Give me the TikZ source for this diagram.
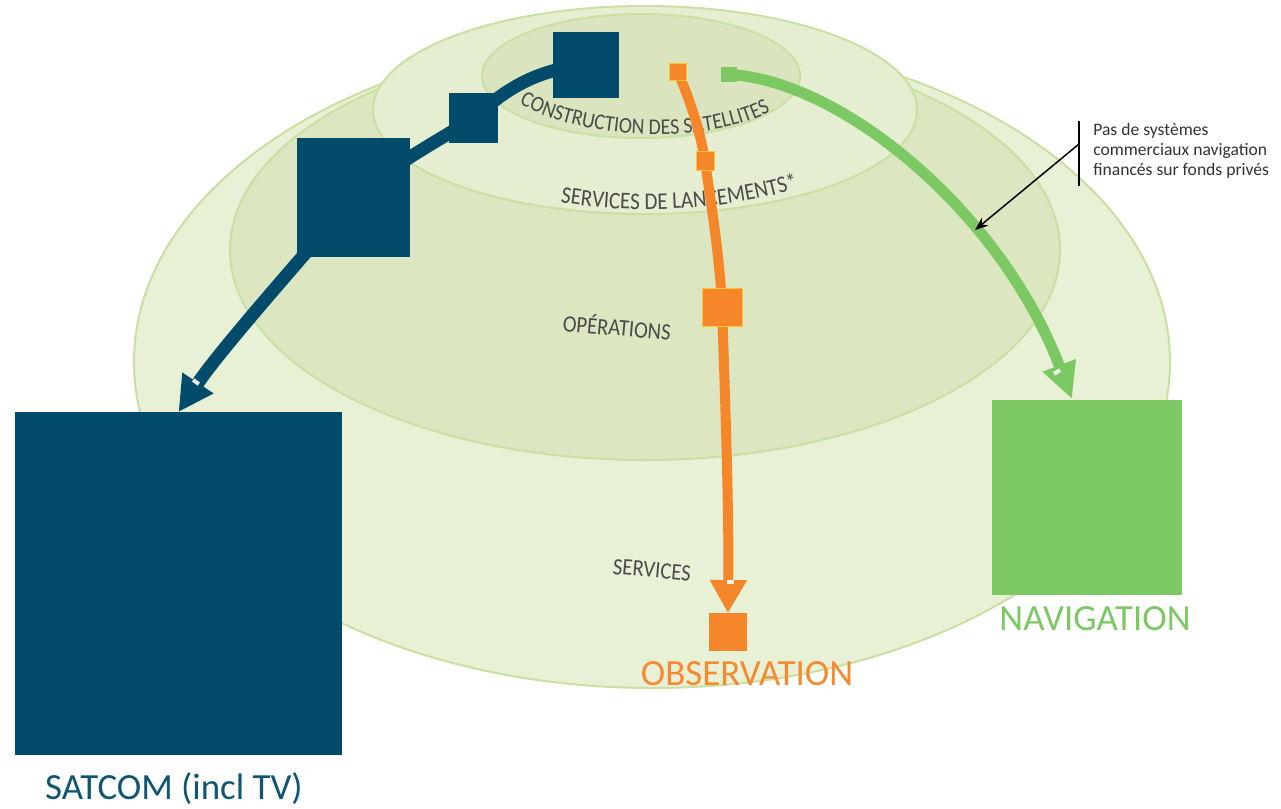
\documentclass[tikz,border=0pt]{standalone}
\usepackage{fontspec}
\setmainfont{Carlito}
\newfontfamily\domefont[FakeStretch=0.88]{Carlito}
\usetikzlibrary{arrows.meta,decorations.text}
\definecolor{satblue}{HTML}{034B6B}
\definecolor{sattext}{HTML}{0F5674}
\definecolor{obsor}{HTML}{F5862A}
\definecolor{obstext}{HTML}{F58A30}
\definecolor{navgr}{HTML}{7CC863}
\definecolor{navtext}{HTML}{7CC865}
\definecolor{sqedge}{HTML}{FFC52E}
\definecolor{ringA}{HTML}{E8F0D5}
\definecolor{ringB}{HTML}{DCE7C2}
\definecolor{ringC}{HTML}{E6EED1}
\definecolor{ringD}{HTML}{DAE5BF}
\definecolor{ringedge}{HTML}{CADFA2}
\definecolor{lbl}{HTML}{4A4A4A}
\definecolor{notetext}{HTML}{333333}
\pgfdeclarelayer{bg}
\pgfdeclarelayer{mid}
\pgfsetlayers{bg,mid,main}
\begin{document}
\begin{tikzpicture}[x=0.02cm,y=-0.02cm,
  sq/.style={inner sep=0pt, outer sep=0pt},
  bsq/.style={sq, fill=satblue},
  osq/.style={sq, fill=obsor, draw=sqedge, line width=0.5pt},
  gsq/.style={sq, fill=navgr},
  ring/.style={draw=ringedge, line width=0.04cm},
  bline/.style={draw=satblue, line width=0.26cm},
  oline/.style={draw=obsor, line width=0.2cm},
  gline/.style={draw=navgr, line width=0.22cm},
  notch/.style={fill=white, inner sep=0pt, outer sep=0pt, minimum width=0.08cm, minimum height=0.14cm, fill opacity=0.9},
  domelbl/.style={text=lbl, font=\domefont\fontsize{13.4}{15}\selectfont, inner sep=0pt},
  biglbl/.style={font=\fontsize{21}{24}\selectfont, anchor=base, inner sep=0pt},
]
\useasboundingbox (0,0) rectangle (1281,808);

% ---------- squares and boxes ----------
\node[bsq, minimum width=1.32cm, minimum height=1.32cm] (b1) at (586,65) {};
\node[bsq, minimum width=0.98cm, minimum height=1.0cm] (b2) at (473.5,118) {};
\node[bsq, minimum width=2.26cm, minimum height=2.38cm] (b3) at (353.5,197.5) {};
\node[bsq, minimum width=6.54cm, minimum height=6.86cm] (sat) at (178.5,583.5) {};

\node[osq, minimum width=0.34cm, minimum height=0.34cm] (o1) at (677.5,71.5) {};
\node[osq, minimum width=0.36cm, minimum height=0.38cm] (o2) at (705,161) {};
\node[osq, minimum width=0.8cm, minimum height=0.76cm] (o3) at (722,307) {};
\node[sq, fill=obsor, minimum width=0.76cm, minimum height=0.76cm] (o4) at (728,632) {};

\node[gsq, minimum width=0.32cm, minimum height=0.3cm] (g1) at (729,74.5) {};
\node[gsq, minimum width=3.8cm, minimum height=3.9cm] (nav) at (1087,497.5) {};
\coordinate (gtip) at (1072,399);

% ---------- labels ----------
\node[biglbl, text=sattext] (satlbl) at (174,799) {SATCOM (incl TV)};
\node[biglbl, text=obstext] (obslbl) at (747,685) {OBSERVATION};
\node[biglbl, text=navtext] (navlbl) at (1095,630) {NAVIGATION};

\node[anchor=north west, inner sep=0pt, align=left, text=notetext,
      font=\fontsize{10}{11.3}\selectfont] (note) at (1093,123)
  {Pas de systèmes\\commerciaux navigation\\financés sur fonds privés};
\coordinate (barTop) at (1079,121);
\coordinate (barBot) at (1079,186);
\coordinate (noteFrom) at (1079,144);
\coordinate (noteTo) at (975,230);
\draw[line width=0.04cm] (barTop) -- (barBot);
\draw[line width=0.03cm, -{Stealth[length=0.26cm,width=0.2cm]}] (noteFrom) -- (noteTo);

% ---------- background dome ----------
\begin{pgfonlayer}{bg}
\fill[white] (0,0) rectangle (1281,808);
\filldraw[ring, fill=ringA] (652,362) ellipse [x radius=518, y radius=326];
\filldraw[ring, fill=ringB] (645,250) ellipse [x radius=415, y radius=210];
\filldraw[ring, fill=ringC] (645,110) ellipse [x radius=272, y radius=104];
\filldraw[ring, fill=ringD] (641,76) ellipse [x radius=159, y radius=62];

\path[decorate, decoration={text along path, text align=center, text color=lbl,
   text={|\domefont\fontsize{12.8}{15}\selectfont|CONSTRUCTION DES SATELLITES}}]
   (510,98) .. controls (570,140) and (710,150) .. (780,106);
\path[decorate, decoration={text along path, text align=center, text color=lbl,
   text={|\domefont\fontsize{13.6}{15}\selectfont|SERVICES DE LANCEMENTS*}}]
   (553,201) .. controls (620,214) and (720,214) .. (806,186);
\node[domelbl, rotate=-5] (oplbl) at (617,326) {OPÉRATIONS};
\node[domelbl, rotate=-5] (svlbl) at (652,570) {SERVICES};
\end{pgfonlayer}

% ---------- connectors ----------
\begin{pgfonlayer}{mid}
\draw[bline] (b1.center) .. controls (530,70) and (500,95) .. (b2.center);
\draw[bline] (b2.center) .. controls (440,140) and (400,160) .. (b3.center);
\draw[bline, -{Triangle[width=0.7cm,length=0.7cm]}] (b3.center) .. controls (300,260) and (220,350) .. (sat.north);

\draw[oline] (o1.center) .. controls (690,100) and (700,130) .. (o2.center);
\draw[oline] (o2.center) .. controls (712,210) and (720,260) .. (o3.center);
\draw[oline, -{Triangle[width=0.7cm,length=0.66cm]}] (o3.center) .. controls (726,420) and (729,520) .. (o4.north);

\draw[gline, -{Triangle[width=0.66cm,length=0.72cm]}] (g1.center) .. controls (840,80) and (1000,210) .. (gtip);
\end{pgfonlayer}

\node[notch, rotate=-126] (nb) at (196,382) {};
\node[notch, rotate=-90] (no) at (730,582) {};
\node[notch, rotate=-60] (ng) at (1057,372) {};
\end{tikzpicture}
\end{document}
